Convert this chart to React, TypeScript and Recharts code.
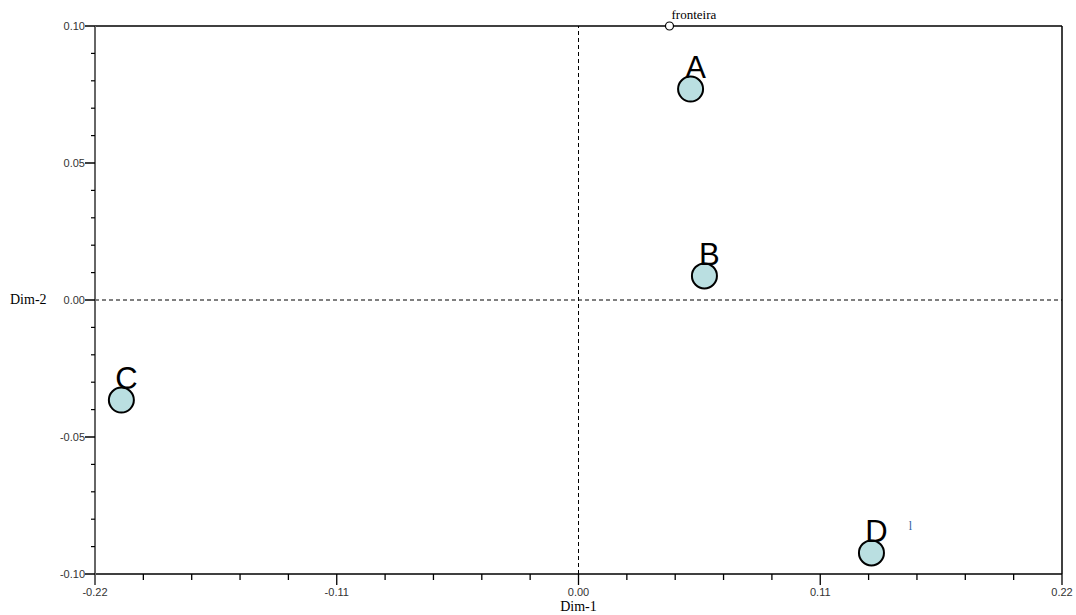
import React from 'react';
import { ScatterChart, Scatter, XAxis, YAxis, ReferenceLine } from 'recharts';

const categories = ['A', 'B', 'C', 'D'];
const dim1Values = [0.051, 0.0573, -0.208, 0.1333];
const dim2Values = [0.077, 0.0088, -0.0365, -0.0923];

const frontierLabel = ['fronteira'];
const frontierDim1 = [0.0414];
const frontierDim2 = [0.1];

const strayLabel = ['l'];
const strayDim1 = [0.151];
const strayDim2 = [-0.084];

const xTicks = [-0.22, -0.198, -0.176, -0.154, -0.132, -0.11, -0.088, -0.066, -0.044, -0.022, 0, 0.022, 0.044, 0.066, 0.088, 0.11, 0.132, 0.154, 0.176, 0.198, 0.22];
const xMajorTicks = [-0.22, -0.11, 0, 0.11, 0.22];
const xTickLabels = ['-0.22', '-0.11', '0.00', '0.11', '0.22'];

const yTicks = [-0.1, -0.09, -0.08, -0.07, -0.06, -0.05, -0.04, -0.03, -0.02, -0.01, 0, 0.01, 0.02, 0.03, 0.04, 0.05, 0.06, 0.07, 0.08, 0.09, 0.1];
const yMajorTicks = [-0.1, -0.05, 0, 0.05, 0.1];
const yTickLabels = ['-0.10', '-0.05', '0.00', '0.05', '0.10'];

const points = categories.map((name, i) => ({ name, x: dim1Values[i], y: dim2Values[i] }));
const frontier = frontierLabel.map((name, i) => ({ name, x: frontierDim1[i], y: frontierDim2[i] }));
const stray = strayLabel.map((name, i) => ({ name, x: strayDim1[i], y: strayDim2[i] }));

const majorIndex = (arr: number[], v: number) => arr.findIndex((m) => Math.abs(m - v) < 1e-6);

const tickFont = '"Liberation Sans", Arial, sans-serif';
const serifFont = '"Liberation Serif", "Times New Roman", serif';

const XTick = (props: any) => {
  const { x, y, payload } = props;
  const idx = majorIndex(xMajorTicks, payload.value);
  const major = idx >= 0;
  const isEdge = Math.abs(payload.value + 0.22) < 1e-6;
  return (
    <g>
      <line x1={x} y1={y} x2={x} y2={y + (major ? 11 : 6)} stroke={isEdge ? '#666' : '#000'} strokeWidth={isEdge ? 2 : 1.3} />
      {major && (
        <text x={x} y={y + 22} textAnchor="middle" fontFamily={tickFont} fontSize={11} fill="#333">
          {xTickLabels[idx]}
        </text>
      )}
    </g>
  );
};

const YTick = (props: any) => {
  const { x, y, payload } = props;
  const idx = majorIndex(yMajorTicks, payload.value);
  const major = idx >= 0;
  return (
    <g>
      <line x1={x} y1={y} x2={x - (major ? 10 : 4)} y2={y} stroke="#000" strokeWidth={major ? 1.5 : 1.2} />
      {major && (
        <text x={x - 10} y={y + 4} textAnchor="end" fontFamily={tickFont} fontSize={11} fill="#333">
          {yTickLabels[idx]}
        </text>
      )}
    </g>
  );
};

const PointShape = (props: any) => {
  const { cx, cy, payload } = props;
  return (
    <g>
      <circle cx={cx} cy={cy} r={12.5} fill="#badfe1" stroke="#000" strokeWidth={2} />
      <text x={cx + 5} y={cy - 11} textAnchor="middle" fontFamily={tickFont} fontSize={31} fill="#000">
        {payload.name}
      </text>
    </g>
  );
};

const FrontierShape = (props: any) => {
  const { cx, cy, payload } = props;
  return (
    <g>
      <circle cx={cx} cy={cy} r={4} fill="#fff" stroke="#000" strokeWidth={1.2} />
      <text x={cx + 2} y={cy - 7} fontFamily={serifFont} fontSize={13} fill="#000">
        {payload.name}
      </text>
    </g>
  );
};

const StrayShape = (props: any) => {
  const { cx, cy, payload } = props;
  return (
    <text x={cx} y={cy} textAnchor="middle" fontFamily={serifFont} fontSize={12} fill="#2f5f9f">
      {payload.name}
    </text>
  );
};

const XLabel = (props: any) => {
  const { viewBox } = props;
  return (
    <text x={viewBox.x + viewBox.width / 2} y={viewBox.y + 37} textAnchor="middle" fontFamily={serifFont} fontSize={14} fill="#000">
      Dim-1
    </text>
  );
};

const YLabel = (props: any) => {
  const { viewBox } = props;
  return (
    <text x={viewBox.x + 10} y={viewBox.y + viewBox.height / 2 + 4} fontFamily={serifFont} fontSize={14} fill="#000">
      Dim-2
    </text>
  );
};

export default function App() {
  return (
    <div style={{ position: 'absolute', left: 0, top: 0, width: 1076, height: 615, background: '#fff' }}>
      <ScatterChart width={1076} height={615} margin={{ top: 26, right: 14, bottom: 0, left: 0 }}>
        <XAxis
          type="number"
          dataKey="x"
          domain={[-0.22, 0.22]}
          ticks={xTicks}
          interval={0}
          height={41}
          tickSize={0}
          tickMargin={0}
          tick={<XTick />}
          axisLine={{ stroke: '#000', strokeWidth: 1.5 }}
          tickLine={false}
          label={<XLabel />}
        />
        <YAxis
          type="number"
          dataKey="y"
          domain={[-0.1, 0.1]}
          ticks={yTicks}
          interval={0}
          width={95}
          tickSize={0}
          tickMargin={0}
          tick={<YTick />}
          axisLine={{ stroke: '#666', strokeWidth: 2 }}
          tickLine={false}
          label={<YLabel />}
        />
        <ReferenceLine x={0} stroke="#000" strokeDasharray="4 3" strokeWidth={1} />
        <ReferenceLine y={0} stroke="#000" strokeDasharray="4 3" strokeWidth={1} />
        <ReferenceLine y={0.1} stroke="#000" strokeWidth={1.5} />
        <ReferenceLine x={0.22} stroke="#000" strokeWidth={1.5} />
        <Scatter data={frontier} shape={<FrontierShape />} isAnimationActive={false} />
        <Scatter data={stray} shape={<StrayShape />} isAnimationActive={false} />
        <Scatter data={points} shape={<PointShape />} isAnimationActive={false} />
      </ScatterChart>
    </div>
  );
}
